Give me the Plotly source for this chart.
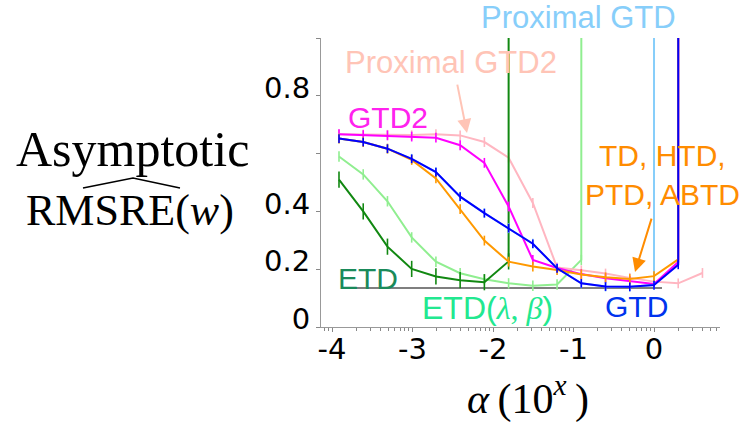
import math
import plotly.graph_objects as go

# ---------------- data ----------------
# step sizes alpha = 2^e ; the x axis shows log10(alpha)
alpha_exp = [-13, -12, -11, -10, -9, -8, -7, -6, -5, -4, -3, -2, -1, 0, 1, 2]
DIV = 1e3  # diverged run (value far above the plotted range)

gtd2 = [0.667, 0.664, 0.663, 0.659, 0.655, 0.629, 0.568, 0.417, 0.232, 0.204,
        0.183, 0.169, 0.159, 0.149, 0.225, DIV]
prox_gtd2 = [0.667, 0.666, 0.665, 0.664, 0.667, 0.663, 0.640, 0.586, 0.429, 0.206,
             0.196, 0.185, 0.170, 0.157, 0.151, 0.187]
gtd = [0.652, 0.640, 0.617, 0.582, 0.536, 0.451, 0.394, 0.342, 0.288, 0.203,
       0.151, 0.140, 0.139, 0.145, 0.215, DIV]
prox_gtd = [0.652, 0.640, 0.617, 0.582, 0.536, 0.451, 0.394, 0.342, 0.288, 0.203,
            0.151, 0.140, 0.139, 0.145, DIV, None]
td_group = [0.652, 0.640, 0.617, 0.578, 0.514, 0.408, 0.299, 0.226, 0.209, 0.197,
            0.182, 0.172, 0.166, 0.176, 0.234, DIV]
etd = [0.510, 0.400, 0.278, 0.201, 0.175, 0.162, 0.155, 0.227, DIV,
       None, None, None, None, None, None, None]
etd_lb = [0.590, 0.528, 0.435, 0.310, 0.226, 0.186, 0.165, 0.151, 0.143, 0.147,
          0.232, DIV, None, None, None, None]

baseline_x = [-3.84, 0.10]
baseline_y = [0.135, 0.135]

x_tick_vals = [-4, -3, -2, -1, 0]
x_tick_text = ["-4", "-3", "-2", "-1", "0"]
y_tick_vals = [0, 0.2, 0.4, 0.6, 0.8, 1.0]
y_tick_text = ["0", "0.2", "0.4", "", "0.8", ""]

x_vals = [e * math.log10(2) for e in alpha_exp]

# (name, values, colour, error size)  -- drawing order bottom -> top
series = [
    ("ETD(λ, β)", etd_lb, "#90ee90", 0.018),
    ("Proximal GTD2", prox_gtd2, "#ffb6c1", 0.017),
    ("ETD", etd, "#118811", 0.028),
    ("GTD2", gtd2, "#ff00ff", 0.017),
    ("Proximal GTD", prox_gtd, "#87cefa", 0.017),
    ("TD, HTD, PTD, ABTD", td_group, "#ff9900", 0.017),
    ("GTD", gtd, "#0000ff", 0.015),
]

fig = go.Figure()

fig.add_trace(go.Scatter(x=baseline_x, y=baseline_y, mode="lines",
                         line=dict(color="black", width=1.2),
                         showlegend=False, hoverinfo="skip"))

for name, vals, col, err in series:
    fig.add_trace(go.Scatter(
        x=x_vals, y=vals, mode="lines", name=name,
        line=dict(color=col, width=2),
        error_y=dict(type="constant", value=err, width=0, thickness=1.6, color=col),
        showlegend=False, connectgaps=False,
    ))

# minor log-style ticks on the x axis
minor_vals = []
for k in range(-5, 1):
    for m in range(2, 10):
        v = k + math.log10(m)
        if -4.137 <= v <= 0.82:
            minor_vals.append(v)

SANS = "Liberation Sans, Arial, sans-serif"
TICKF = "DejaVu Sans, Liberation Sans, sans-serif"
SERIF = "Liberation Serif, Times New Roman, serif"

fig.update_layout(
    width=746, height=429,
    margin=dict(l=321, r=26, t=38, b=102),
    paper_bgcolor="white", plot_bgcolor="white",
    showlegend=False,
    xaxis=dict(
        range=[-4.137, 0.82], tickmode="array", tickvals=x_tick_vals, ticktext=x_tick_text,
        ticks="outside", ticklen=4, tickcolor="#888", tickwidth=1,
        showline=True, linecolor="#999", linewidth=1,
        showgrid=False, zeroline=False, ticklabelstandoff=-8,
        tickfont=dict(size=29, family=TICKF, color="black"),
        minor=dict(tickmode="array", tickvals=minor_vals, ticks="outside",
                   ticklen=2.5, tickcolor="#888", showgrid=False),
    ),
    yaxis=dict(
        range=[0, 1.0], tickmode="array", tickvals=y_tick_vals, ticktext=y_tick_text,
        ticks="outside", ticklen=4, tickcolor="#888", tickwidth=1,
        showline=True, linecolor="#999", linewidth=1,
        showgrid=False, zeroline=False, ticklabelshift=-8,
        tickfont=dict(size=29, family=TICKF, color="black"),
    ),
)

ann = []
def label(text, x, y, color, size=30, family=SANS, xref="x", yref="y"):
    ann.append(dict(text=text, x=x, y=y, xref=xref, yref=yref, showarrow=False,
                    font=dict(size=size, family=family, color=color),
                    xanchor="center", yanchor="middle"))

label("Proximal GTD", (578 - 321) / 399, (327 - 17) / 289, "#87cefa", size=31,
      xref="paper", yref="paper")
label("Proximal GTD2", -2.52, 0.915, "#ffc4b6", size=31)
label("GTD2", -3.30, 0.725, "#ff22ee")
label("TD, HTD,", 0.11, 0.595, "#ff8c00")
label("PTD, ABTD", 0.10, 0.460, "#ff8c00")
label("ETD", -3.55, 0.168, "#1a8a5a")
label("ETD(<span style='font-family:Liberation Serif'><i>λ</i>, <i>β</i></span>)",
      -2.07, 0.066, "#22e890", size=32)
label("GTD", -0.22, 0.072, "#0033ee")

# arrows
ann.append(dict(x=-2.323, y=0.671, xref="x", yref="y", ax=-10, ay=-50,
                showarrow=True, arrowhead=2, arrowsize=1.4, arrowwidth=2,
                arrowcolor="#ffc4b6", text=""))
ann.append(dict(x=-0.236, y=0.190, xref="x", yref="y", ax=17, ay=-55,
                showarrow=True, arrowhead=2, arrowsize=1.4, arrowwidth=2,
                arrowcolor="#ff8c00", text=""))

# axis titles
ann.append(dict(text="<i>α</i>\u2009(10<sup><i>x</i></sup>\u2009)", x=(528 - 321) / 399,
                y=(327 - 396) / 289,
                xref="paper", yref="paper", showarrow=False, xanchor="center", yanchor="middle",
                font=dict(size=42, family=SERIF, color="black")))
ann.append(dict(text="Asymptotic", x=(132 - 321) / 399, y=(327 - 149) / 289,
                xref="paper", yref="paper", showarrow=False, xanchor="center", yanchor="middle",
                font=dict(size=50, family=SERIF, color="black")))
ann.append(dict(text="RMSRE(<i>w</i>)", x=(130 - 321) / 399, y=(327 - 210) / 289,
                xref="paper", yref="paper", showarrow=False, xanchor="center", yanchor="middle",
                font=dict(size=44, family=SERIF, color="black")))
fig.update_layout(annotations=ann)

# wide hat over RMSRE
def px2paper(px, py):
    return (px - 321) / 399, (327 - py) / 289
p0 = px2paper(83, 188); p1 = px2paper(133, 178); p2 = px2paper(180, 188)
fig.add_shape(type="path", xref="paper", yref="paper",
              path=f"M {p0[0]} {p0[1]} L {p1[0]} {p1[1]} L {p2[0]} {p2[1]}",
              line=dict(color="black", width=1.6))

fig.write_html("out.html")
